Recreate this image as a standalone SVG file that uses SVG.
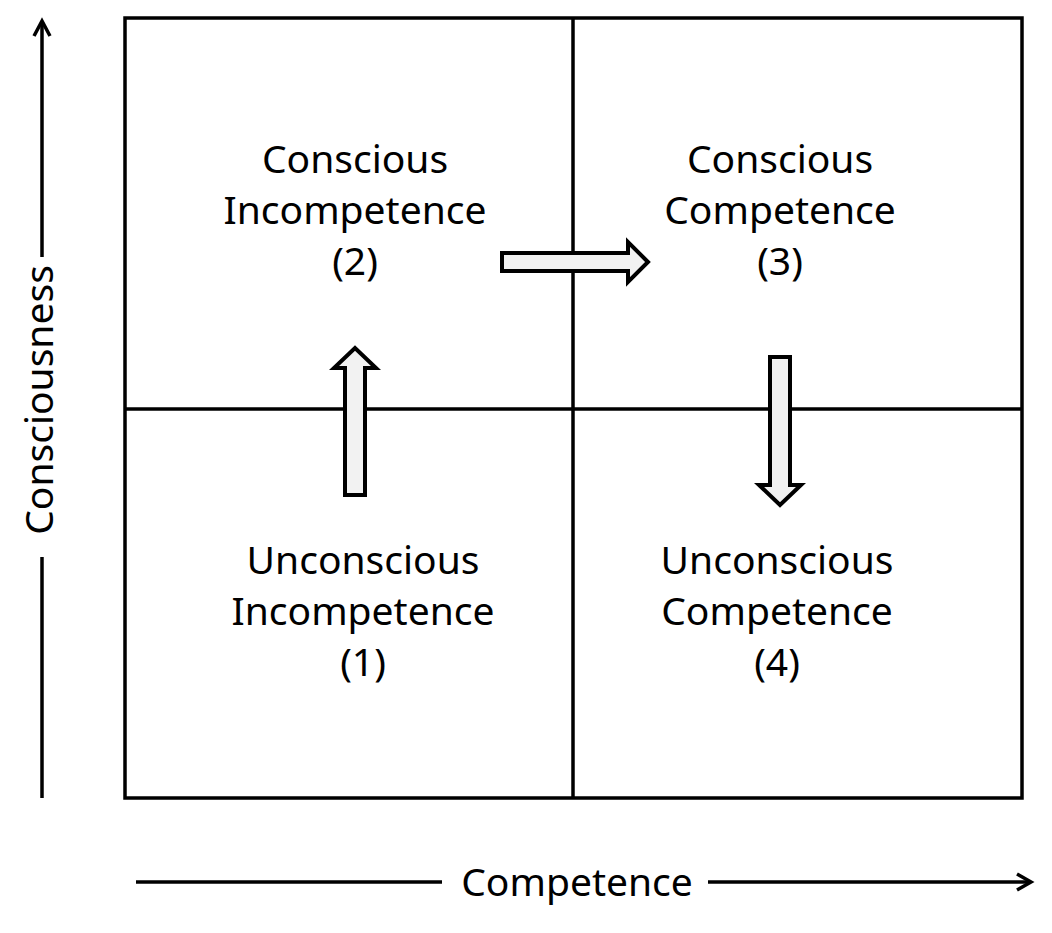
<svg xmlns="http://www.w3.org/2000/svg" width="1052" height="933" viewBox="0 0 1052 933">
<style>
.lbl{font-family:"Noto Sans","Open Sans","DejaVu Sans",sans-serif;font-size:39px;fill:#000;text-anchor:middle}
.ln{stroke:#000;stroke-width:3.5;fill:none}
.blk{fill:#f2f2f2;stroke:#000;stroke-width:4;stroke-linejoin:miter}
</style>
<rect width="1052" height="933" fill="#fff"/>
<g id="grid">
<rect class="ln" x="125" y="18" width="897" height="780"/>
<line class="ln" x1="573" y1="18" x2="573" y2="798"/>
<line class="ln" x1="125" y1="409" x2="1022" y2="409"/>
</g>
<g id="q2"><text class="lbl" x="355" y="173">Conscious</text><text class="lbl" x="355" y="224">Incompetence</text><text class="lbl" x="355" y="275">(2)</text></g>
<g id="q3"><text class="lbl" x="780" y="173">Conscious</text><text class="lbl" x="780" y="224">Competence</text><text class="lbl" x="780" y="275">(3)</text></g>
<g id="q1"><text class="lbl" x="363" y="574">Unconscious</text><text class="lbl" x="363" y="625">Incompetence</text><text class="lbl" x="363" y="676">(1)</text></g>
<g id="q4"><text class="lbl" x="777" y="574">Unconscious</text><text class="lbl" x="777" y="625">Competence</text><text class="lbl" x="777" y="676">(4)</text></g>
<g id="connectors">
<polygon class="blk" points="502,253 628,253 628,242 648,262 628,282 628,271 502,271"/>
<polygon class="blk" points="345,495 345,368 334,368 355,348 376,368 365,368 365,495"/>
<polygon class="blk" points="770,357 790,357 790,485 801,485 780,505 759,485 770,485"/>
<g id="yaxis">
<line class="ln" x1="42" y1="21" x2="42" y2="257"/>
<line class="ln" x1="42" y1="557" x2="42" y2="798"/>
<polyline class="ln" points="34,36 42,21 50,36"/>
</g>
<g id="xaxis">
<line class="ln" x1="136" y1="882" x2="442" y2="882"/>
<line class="ln" x1="708" y1="882" x2="1031" y2="882"/>
<polyline class="ln" points="1017,874 1031,882 1017,890"/>
</g>
</g>
<text class="lbl" transform="translate(53,400) rotate(-90)">Consciousness</text>
<text class="lbl" x="577" y="896">Competence</text>
</svg>
